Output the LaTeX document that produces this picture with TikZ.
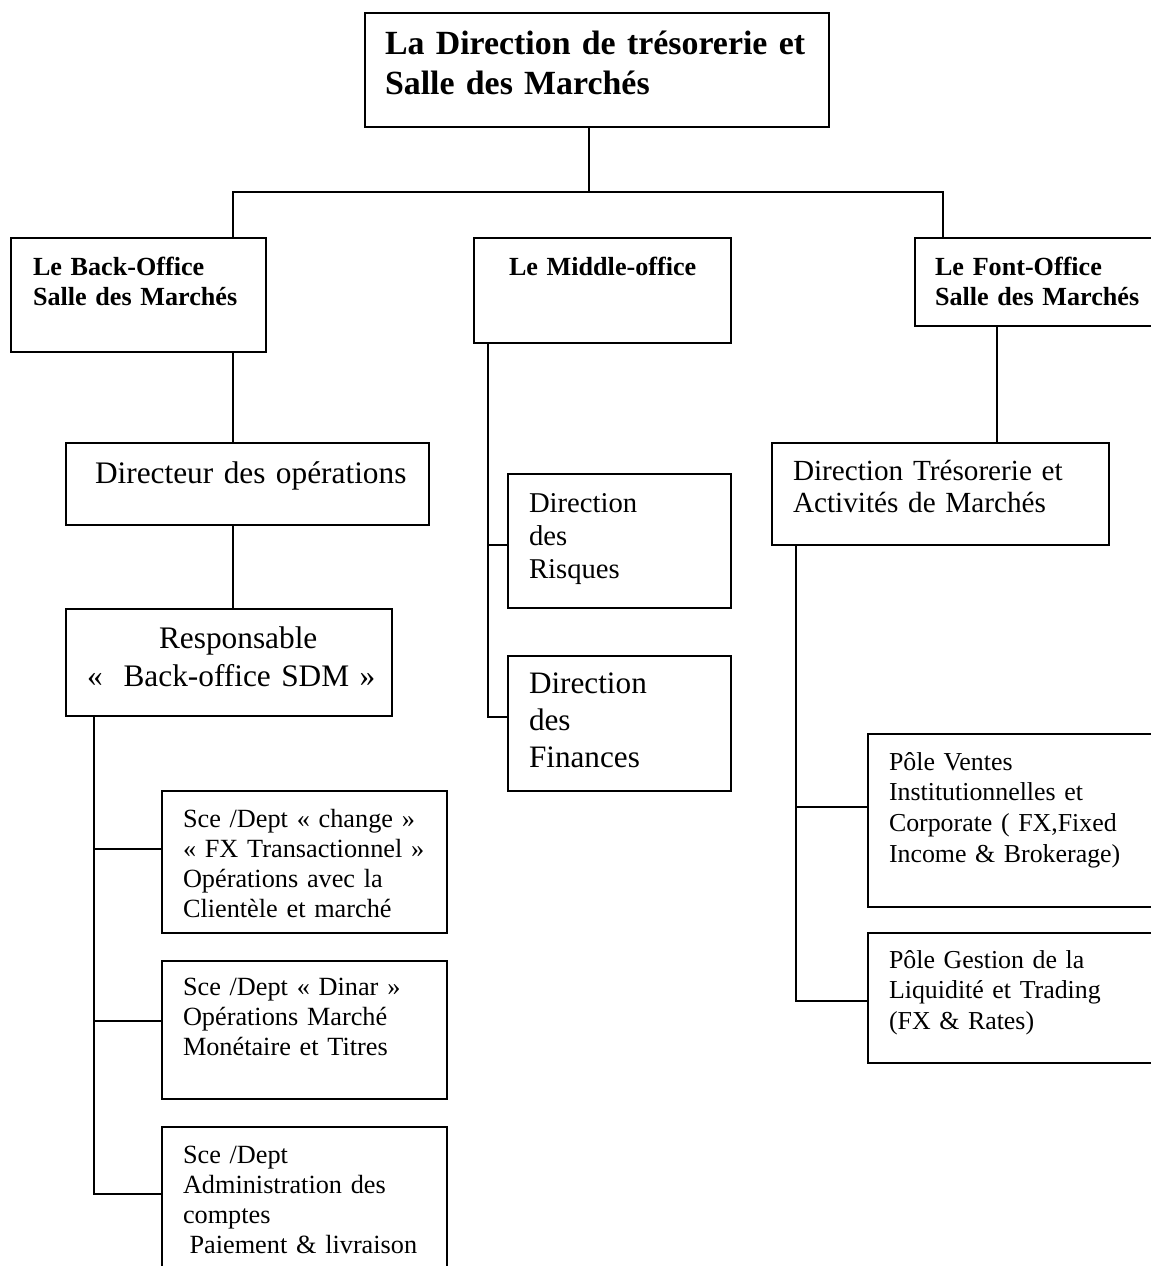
\documentclass[tikz,border=0pt]{standalone}
\usepackage{fontspec}
\setmainfont{Liberation Serif}
\usetikzlibrary{fit,calc}
\tikzset{
  box/.style={draw, line width=1.4pt, inner sep=0pt, outer sep=0pt},
  conn/.style={line width=1.4pt},
  txt/.style={anchor=base west, inner sep=0pt, outer sep=0pt, align=left, text width=14cm},
}
\newcommand{\fs}[2]{\fontsize{#1}{#2}\selectfont}
\begin{document}
\begin{tikzpicture}[x=0.75pt,y=-0.75pt]
\clip (0,0) rectangle (1151,1266);
\fill[white] (0,0) rectangle (1151,1266);
% boxes
\node[box, fit={(365,13) (829,127)}] (top) {};
\node[box, fit={(11,238) (266,352)}] (back) {};
\node[box, fit={(474,238) (731,343)}] (mid) {};
\node[box, fit={(915,238) (1170,326)}] (front) {};
\node[box, fit={(66,443) (429,525)}] (dir) {};
\node[box, fit={(66,609) (392,716)}] (resp) {};
\node[box, fit={(508,474) (731,608)}] (risq) {};
\node[box, fit={(508,656) (731,791)}] (fin) {};
\node[box, fit={(772,443) (1109,545)}] (tres) {};
\node[box, fit={(868,734) (1170,907)}] (ventes) {};
\node[box, fit={(868,933) (1170,1063)}] (gestion) {};
\node[box, fit={(162,791) (447,933)}] (sceA) {};
\node[box, fit={(162,961) (447,1099)}] (sceB) {};
\node[box, fit={(162,1127) (447,1290)}] (sceC) {};
% texts
\node[txt, font=\bfseries\fs{25.4}{30}] (ttop) at (385,55) {La Direction de trésorerie et\\Salle des Marchés};
\node[txt, font=\bfseries\fs{19.6}{22.5}] (tback) at (33,275) {Le Back-Office\\Salle des Marchés};
\node[txt, font=\bfseries\fs{19.6}{22.5}] (tmid) at (509,276) {Le Middle-office};
\node[txt, font=\bfseries\fs{19.6}{22.5}] (tfront) at (935,275) {Le Font-Office\\Salle des Marchés};
\node[txt, font=\fs{23.5}{28}] (tdir) at (95,483) {Directeur des opérations};
\node[txt, font=\fs{23.5}{28}] (tresp1) at (159,648) {Responsable};
\node[txt, font=\fs{23.5}{28}] (tresp2) at (87,686) {«~~Back-office SDM »};
\node[txt, font=\fs{21.5}{25}] (trisq) at (529,512) {Direction\\des\\Risques};
\node[txt, font=\fs{23.4}{27.75}] (tfin) at (529,693) {Direction\\des\\Finances};
\node[txt, font=\fs{21.9}{24.5}] (ttres) at (793,480) {Direction Trésorerie et\\Activités de Marchés};
\node[txt, font=\fs{19.4}{23}] (tventes) at (889,770) {Pôle Ventes\\Institutionnelles et\\Corporate ( FX,Fixed\\Income \& Brokerage)};
\node[txt, font=\fs{19.4}{23}] (tgestion) at (889,968) {Pôle Gestion de la\\Liquidité et Trading\\(FX \& Rates)};
\node[txt, font=\fs{19.7}{22.5}] (tsceA) at (183,827) {Sce /Dept « change »\\« FX Transactionnel »\\Opérations avec la\\Clientèle et marché};
\node[txt, font=\fs{19.7}{22.5}] (tsceB) at (183,995) {Sce /Dept « Dinar »\\Opérations Marché\\Monétaire et Titres};
\node[txt, font=\fs{19.7}{22.5}] (tsceC) at (183,1163) {Sce /Dept\\Administration des\\comptes\\\hspace{0.25em}Paiement \& livraison};
% connector helper coordinates
\coordinate (busL) at (233,192);
\coordinate (busC) at (589,192);
\coordinate (busR) at (943,192);
\coordinate (bkx) at (94,0);
\coordinate (mdx) at (488,0);
\coordinate (frx) at (997,0);
\coordinate (trx) at (796,0);
% connectors
\draw[conn] (top.south -| busC) -- (busC);
\draw[conn] (back.north -| busL) -- (busL) -- (busR) -- (front.north -| busR);
\draw[conn] (back.south -| busL) -- (dir.north -| busL);
\draw[conn] (dir.south -| busL) -- (resp.north -| busL);
\draw[conn] (resp.south -| bkx) -- (bkx |- {$(sceC.north west)+(0,67)$}) -- ($(sceC.north west)+(0,67)$);
\draw[conn] (bkx |- {$(sceA.north west)+(0,58)$}) -- ($(sceA.north west)+(0,58)$);
\draw[conn] (bkx |- {$(sceB.north west)+(0,60)$}) -- ($(sceB.north west)+(0,60)$);
\draw[conn] (mid.south -| mdx) -- (mdx |- {$(fin.north west)+(0,61)$}) -- ($(fin.north west)+(0,61)$);
\draw[conn] (mdx |- {$(risq.north west)+(0,71)$}) -- ($(risq.north west)+(0,71)$);
\draw[conn] (front.south -| frx) -- (tres.north -| frx);
\draw[conn] (tres.south -| trx) -- (trx |- {$(gestion.north west)+(0,68)$}) -- ($(gestion.north west)+(0,68)$);
\draw[conn] (trx |- {$(ventes.north west)+(0,73)$}) -- ($(ventes.north west)+(0,73)$);
\end{tikzpicture}
\end{document}
